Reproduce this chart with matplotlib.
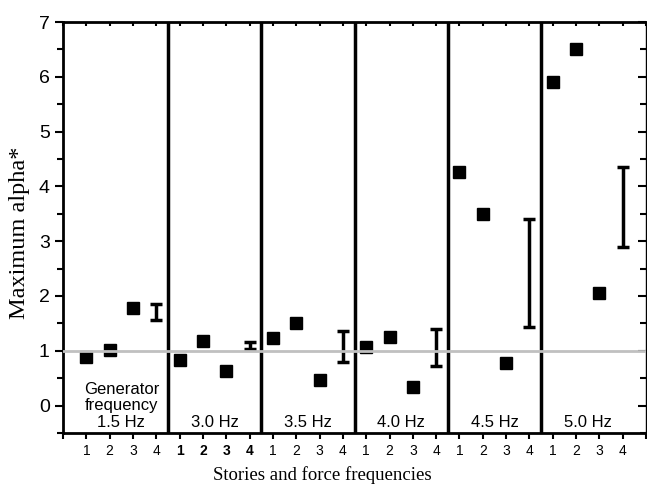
import matplotlib
matplotlib.use('Agg')
import matplotlib.pyplot as plt
import numpy as np
from matplotlib.ticker import MultipleLocator

# generator frequencies (one panel each) and story numbers
groups = ['1.5 Hz', '3.0 Hz', '3.5 Hz', '4.0 Hz', '4.5 Hz', '5.0 Hz']
stories = ['1', '2', '3', '4']

# maximum alpha* per story, one value per generator frequency
story1 = [0.88, 0.83, 1.23, 1.07, 4.27, 5.91]
story2 = [1.02, 1.17, 1.50, 1.26, 3.49, 6.51]
story3 = [1.79, 0.63, 0.47, 0.34, 0.77, 2.06]
# story 4 given as a range
story4_low = [1.57, 1.04, 0.80, 0.73, 1.43, 2.89]
story4_high = [1.86, 1.16, 1.37, 1.40, 3.40, 4.36]

ref_level = 1.0

fig = plt.figure(figsize=(6.47, 4.84), dpi=100)
ax = fig.add_axes([0.0974, 0.1054, 0.9011, 0.8491])

n = len(stories)
base = np.arange(len(groups)) * n

for vals, s in zip([story1, story2, story3], [1, 2, 3]):
    ax.plot(base + s, vals, 's', color='black', ms=8.5, zorder=3, clip_on=False)

lo = np.array(story4_low)
hi = np.array(story4_high)
mid = (lo + hi) / 2
ax.errorbar(base + 4, mid, yerr=[mid - lo, hi - mid], fmt='none', ecolor='black',
            elinewidth=2.5, capsize=4, capthick=2.5, zorder=3)

ax.axhline(ref_level, color='#c0c0c0', lw=2, zorder=4)

for b in base[1:]:
    ax.axvline(b + 0.5, color='black', lw=2.5, zorder=2)

# panel labels
for i, g in enumerate(groups):
    if i == 0:
        ax.text(base[i] + 2.5, -0.45, 'Generator\nfrequency\n' + g, ha='center', va='bottom',
                fontsize=12, family='Liberation Sans', linespacing=1.15)
    else:
        ax.text(base[i] + 2.5, -0.45, g, ha='center', va='bottom', fontsize=12,
                family='Liberation Sans')

ax.set_xlim(0, len(groups) * n + 1)
ax.set_ylim(-0.5, 7)

xt = np.arange(0, len(groups) * n + 2)
labels = [''] + stories * len(groups) + ['']
ax.set_xticks(xt)
ax.set_xticklabels(labels, fontsize=10, family='Liberation Sans')
for lab in ax.get_xticklabels()[5:9]:
    lab.set_fontweight('bold')

ax.set_yticks(range(0, 8))
ax.yaxis.set_minor_locator(MultipleLocator(0.5))
ax.set_yticklabels([str(v) for v in range(0, 8)], fontsize=14, family='Liberation Sans')

ax.tick_params(axis='x', which='major', direction='out', length=4, width=1.5, top=True,
               pad=4)
ax.tick_params(axis='y', which='major', direction='out', length=6, width=1.5, right=True)
ax.tick_params(axis='y', which='minor', direction='out', length=4, width=1.5, right=True)
for t in ax.xaxis.get_major_ticks():
    t.tick2line.set_marker(matplotlib.lines.TICKDOWN)
    t.tick2line.set_markersize(3)
for t in ax.yaxis.get_major_ticks() + ax.yaxis.get_minor_ticks():
    t.tick2line.set_marker(matplotlib.lines.TICKLEFT)

for sp in ax.spines.values():
    sp.set_linewidth(2)
ax.spines['right'].set_linewidth(1)

fig.text(322 / 647, 1 - 475 / 484, 'Stories and force frequencies', fontsize=13.5,
         family='Liberation Serif', ha='center', va='center')
fig.text(20 / 647, 1 - 233 / 484, 'Maximum alpha*', fontsize=17.5, rotation=90,
         family='Liberation Serif', ha='center', va='center')

fig.savefig('out.png', dpi=100)
